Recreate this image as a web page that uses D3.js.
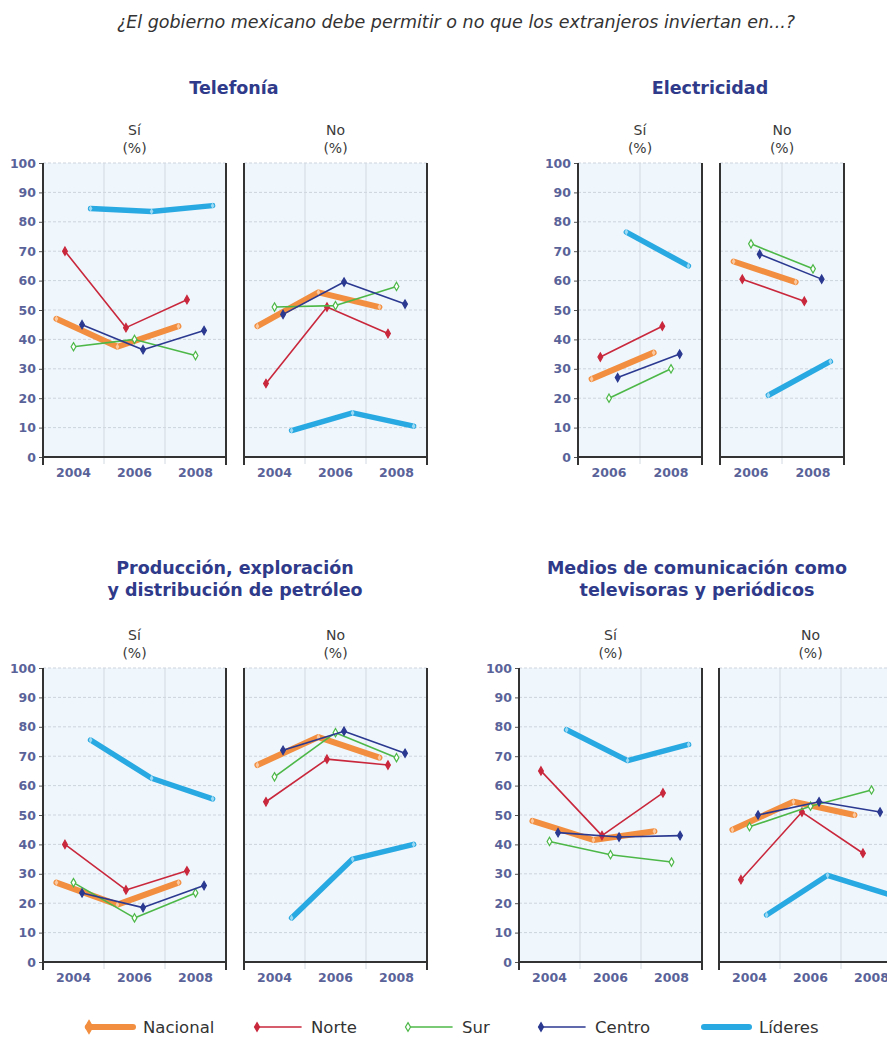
<!DOCTYPE html>
<html><head><meta charset="utf-8">
<script src="https://cdn.jsdelivr.net/npm/d3@7"></script>
<style>
body{margin:0;background:#fff;}
svg{display:block;font-family:"DejaVu Sans",Verdana,sans-serif;}
</style></head><body>
<svg id="c" width="887" height="1041"></svg>
<script>
// ---------- DATA ----------
const seriesNames = ["Nacional", "Norte", "Sur", "Centro", "Líderes"];
const years3 = ["2004", "2006", "2008"];
const years2 = ["2006", "2008"];
const yTicks = [0, 10, 20, 30, 40, 50, 60, 70, 80, 90, 100];
const panelLabels = ["Sí", "No"];
const subtitle = "¿El gobierno mexicano debe permitir o no que los extranjeros inviertan en...?";
const titleTelefonia = ["Telefonía"];
const titleElectricidad = ["Electricidad"];
const titlePetroleo = ["Producción, exploración", "y distribución de petróleo"];
const titleMedios = ["Medios de comunicación como", "televisoras y periódicos"];

// rows follow seriesNames order: Nacional, Norte, Sur, Centro, Líderes
const telefoniaSi = [
  [47, 37.5, 44.5],
  [70, 44, 53.5],
  [37.5, 40, 34.5],
  [45, 36.5, 43],
  [84.5, 83.5, 85.5]
];
const telefoniaNo = [
  [44.5, 56, 51],
  [25, 51, 42],
  [51, 51.5, 58],
  [48.5, 59.5, 52],
  [9, 15, 10.5]
];
const electricidadSi = [
  [26.5, 35.5],
  [34, 44.5],
  [20, 30],
  [27, 35],
  [76.5, 65]
];
const electricidadNo = [
  [66.5, 59.5],
  [60.5, 53],
  [72.5, 64],
  [69, 60.5],
  [21, 32.5]
];
const petroleoSi = [
  [27, 19.5, 27],
  [40, 24.5, 31],
  [27, 15, 23.5],
  [23.5, 18.5, 26],
  [75.5, 62.5, 55.5]
];
const petroleoNo = [
  [67, 76.5, 69.5],
  [54.5, 69, 67],
  [63, 78, 69.5],
  [72, 78.5, 71],
  [15, 35, 40]
];
const mediosSi = [
  [48, 41.5, 44.5],
  [65, 43, 57.5],
  [41, 36.5, 34],
  [44, 42.5, 43],
  [79, 68.5, 74]
];
const mediosNo = [
  [45, 54.5, 50],
  [28, 51, 37],
  [46, 53, 58.5],
  [50, 54.5, 51],
  [16, 29.5, 23]
];

// ---------- STYLE / LAYOUT ----------
const seriesColor = {"Nacional": "#f28e3f", "Norte": "#c9283c", "Sur": "#4db848", "Centro": "#2b3990", "Líderes": "#29a9e1"};
const seriesWidth = {"Nacional": 6, "Norte": 1.6, "Sur": 1.6, "Centro": 1.6, "Líderes": 5.5};
const markerFill = {"Nacional": "#fde3cc", "Norte": "#c9283c", "Sur": "#ffffff", "Centro": "#2b3990", "Líderes": "#cfeefb"};

const charts = [
  {title: titleTelefonia, years: years3, si: telefoniaSi, no: telefoniaNo, left: 43, top: 163, bw: 61, gap: 18, tx: 234, ty: [94]},
  {title: titleElectricidad, years: years2, si: electricidadSi, no: electricidadNo, left: 578, top: 163, bw: 62, gap: 18, tx: 710, ty: [94]},
  {title: titlePetroleo, years: years3, si: petroleoSi, no: petroleoNo, left: 43, top: 668, bw: 61, gap: 18, tx: 235, ty: [574, 596]},
  {title: titleMedios, years: years3, si: mediosSi, no: mediosNo, left: 519, top: 668, bw: 61, gap: 17, tx: 697, ty: [574, 596]}
];
const plotH = 294;

const svg = d3.select("#c");

svg.append("text").attr("x", 456).attr("y", 28).attr("text-anchor", "middle")
  .attr("font-size", 17.5).attr("font-style", "italic").attr("fill", "#333")
  .text(subtitle);

charts.forEach(ch => {
  const g = svg.append("g");
  g.selectAll("text.title").data(ch.title).join("text")
    .attr("x", ch.tx).attr("y", (d, i) => ch.ty[i]).attr("text-anchor", "middle")
    .attr("font-size", 17.5).attr("font-weight", "bold").attr("fill", "#2f3b8a")
    .text(d => d);

  const y = d3.scaleLinear().domain([0, 100]).range([ch.top + plotH, ch.top]);
  const pw = ch.bw * ch.years.length;

  [ch.si, ch.no].forEach((vals, pi) => {
    const x0 = ch.left + pi * (pw + ch.gap);
    const x = d3.scaleBand().domain(ch.years).range([x0, x0 + pw]);
    const sub = d3.scalePoint().domain(seriesNames).range([0.22 * ch.bw, 0.78 * ch.bw]);
    const bottom = ch.top + plotH;
    const pg = g.append("g");

    // background
    pg.append("rect").attr("x", x0).attr("y", ch.top).attr("width", pw).attr("height", plotH)
      .attr("fill", "#eff6fc");
    // horizontal grid
    pg.selectAll("line.hg").data(yTicks.filter(t => t > 0)).join("line")
      .attr("x1", x0).attr("x2", x0 + pw).attr("y1", d => y(d)).attr("y2", d => y(d))
      .attr("stroke", "#cdd4dc").attr("stroke-width", 1).attr("stroke-dasharray", "3,2");
    // vertical band boundaries
    pg.selectAll("line.vg").data(ch.years.slice(1)).join("line")
      .attr("x1", d => x(d)).attr("x2", d => x(d)).attr("y1", ch.top).attr("y2", bottom + 7)
      .attr("stroke", "#d3d9e0").attr("stroke-width", 1);

    // panel header
    pg.append("text").attr("x", x0 + pw / 2).attr("y", ch.top - 28).attr("text-anchor", "middle")
      .attr("font-size", 14).attr("fill", "#3a3a3a").text(panelLabels[pi]);
    pg.append("text").attr("x", x0 + pw / 2).attr("y", ch.top - 10).attr("text-anchor", "middle")
      .attr("font-size", 14).attr("fill", "#3a3a3a").text("(%)");

    // x axis labels
    const xa = pg.append("g").attr("transform", `translate(0,${bottom})`)
      .call(d3.axisBottom(x).tickSize(0).tickPadding(11));
    xa.select(".domain").remove();
    xa.selectAll("text").attr("font-size", 12.5).attr("font-weight", "bold").attr("fill", "#5a6399")
      .attr("font-family", "DejaVu Sans, sans-serif");

    // y axis only on Sí panel
    if (pi === 0) {
      const ya = pg.append("g").attr("transform", `translate(${x0},0)`)
        .call(d3.axisLeft(y).tickValues(yTicks).tickSize(4).tickPadding(3));
      ya.select(".domain").remove();
      ya.selectAll(".tick line").attr("stroke", "#555");
      ya.selectAll("text").attr("font-size", 12.5).attr("font-weight", "bold").attr("fill", "#5a6399")
        .attr("font-family", "DejaVu Sans, sans-serif");
    }

    // frame: left/right borders and bottom axis
    pg.selectAll("line.fr").data([x0, x0 + pw]).join("line")
      .attr("x1", d => d).attr("x2", d => d).attr("y1", ch.top).attr("y2", bottom + 8)
      .attr("stroke", "#333").attr("stroke-width", 2);
    pg.append("line").attr("x1", x0).attr("x2", x0 + pw).attr("y1", bottom).attr("y2", bottom)
      .attr("stroke", "#333").attr("stroke-width", 2);

    // series
    seriesNames.forEach((name, si) => {
      const v = vals[si];
      const px = (d, i) => x(ch.years[i]) + sub(name);
      const line = d3.line().x(px).y(d => y(d));
      pg.append("path").datum(v).attr("d", line)
        .attr("fill", "none").attr("stroke", seriesColor[name])
        .attr("stroke-width", seriesWidth[name])
        .attr("stroke-linejoin", "round").attr("stroke-linecap", "round");
      const thick = seriesWidth[name] > 3;
      pg.selectAll(null).data(v).join("path")
        .attr("transform", (d, i) => `translate(${px(d, i)},${y(d)})`)
        .attr("d", d3.symbol(d3.symbolDiamond, thick ? 12 : 20)())
        .attr("fill", markerFill[name])
        .attr("fill-opacity", thick ? 0.7 : 1)
        .attr("stroke", thick ? "none" : seriesColor[name])
        .attr("stroke-width", 1.2);
    });
  });
});

// ---------- LEGEND ----------
const legendX = [85, 253, 404, 537, 701];
const ly = 1027;
const lg = svg.append("g");
seriesNames.forEach((name, i) => {
  const x0 = legendX[i];
  const thick = seriesWidth[name] > 3;
  lg.append("line").attr("x1", x0 + 3).attr("x2", x0 + 48).attr("y1", ly).attr("y2", ly)
    .attr("stroke", seriesColor[name]).attr("stroke-width", thick ? 6 : 1.6)
    .attr("stroke-linecap", "round");
  if (!thick || name === "Nacional") {
    lg.append("path").attr("transform", `translate(${x0 + 4},${ly})`)
      .attr("d", d3.symbol(d3.symbolDiamond, name === "Nacional" ? 50 : 22)())
      .attr("fill", name === "Nacional" ? seriesColor[name] : markerFill[name])
      .attr("stroke", seriesColor[name]).attr("stroke-width", 1.2);
  }
  lg.append("text").attr("x", x0 + 58).attr("y", ly + 6)
    .attr("font-size", 16.5).attr("fill", "#333").text(name);
});
</script>
</body></html>
